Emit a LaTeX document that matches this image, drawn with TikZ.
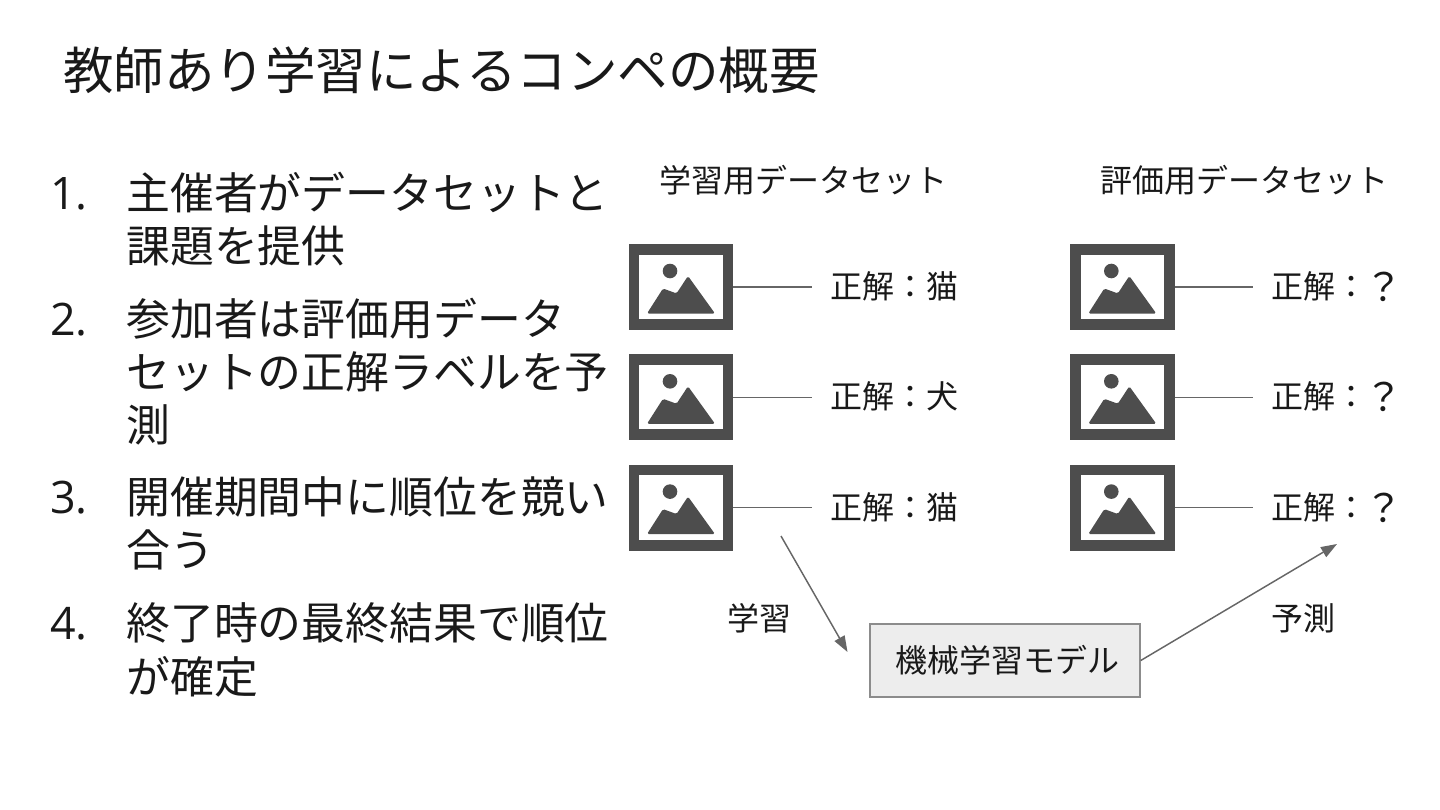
\documentclass[tikz,border=0pt]{standalone}
\usepackage{fontspec}
\setmainfont{Noto Sans CJK JP}
\newfontfamily\numfont{Open Sans}
\newcommand{\bigq}{\hspace*{-2.25pt}\raisebox{-2.2pt}{\fontsize{29}{28}\selectfont ？}}
\usetikzlibrary{arrows.meta}
\definecolor{icon}{HTML}{4D4D4D}
\definecolor{conn}{HTML}{666666}
\tikzset{
  x=0.75pt,y=-0.75pt,
  titletext/.style={anchor=base west,inner sep=0pt,text=black!90,font=\fontsize{37.9}{45}\selectfont},
  listnum/.style={anchor=base west,inner sep=0pt,text=black!90,font=\numfont\fontsize{33.6}{38}\selectfont},
  listitem/.style={anchor=north west,inner sep=0pt,align=left,text=black!90,font=\fontsize{32.9}{39.75}\selectfont},
  heading/.style={anchor=base west,inner sep=0pt,text=black!90,font=\fontsize{24}{28}\selectfont},
  plain/.style={anchor=base west,inner sep=0pt,text=black!90,font=\fontsize{24}{28}\selectfont},
  frame/.style={draw=icon,line width=8.1pt,fill=white,minimum width=70.5pt,minimum height=56.3pt,inner sep=0pt},
  link/.style={draw=conn,line width=1.1pt},
  flow/.style={draw=conn,line width=1.1pt,-{Triangle[length=12pt,width=8.5pt]}},
  modelbox/.style={draw=black!45,line width=1.1pt,fill=black!7,minimum width=202.5pt,minimum height=54.5pt,inner sep=0pt},
  modeltext/.style={anchor=base west,inner sep=0pt,text=black!90,font=\fontsize{24}{28}\selectfont},
  mountain/.pic={
    \fill[icon] (-11,-16) circle (7.3);
    \fill[icon,rounded corners=1.2pt] (-34,26.5) -- (-18,1.5) -- (-7,5.5) -- (-4.5,6.5) -- (7,-11) -- (34,26.5) -- cycle;
  }
}
\begin{document}
\begin{tikzpicture}
\useasboundingbox (0,0) rectangle (1440,810);
\node[titletext] (title) at (63,89) {教師あり学習によるコンペの概要};

\node[listnum] (n1) at (50,209) {1.};
\node[listitem] (t1) at (126,172) {\strut 主催者がデータセットと\\\strut 課題を提供};
\node[listnum] (n2) at (50,335) {2.};
\node[listitem] (t2) at (126,298) {\strut 参加者は評価用データ\\\strut セットの正解ラベルを予\\\strut 測};
\node[listnum] (n3) at (50,513) {3.};
\node[listitem] (t3) at (126,476) {\strut 開催期間中に順位を競い\\\strut 合う};
\node[listnum] (n4) at (50,639) {4.};
\node[listitem] (t4) at (126,602) {\strut 終了時の最終結果で順位\\\strut が確定};

\node[heading] (h1) at (659,192) {学習用データセット};
\node[heading] (h2) at (1100,192) {評価用データセット};

\node[frame] (a1) at (681,287) {};
\node[frame] (a2) at (681,397.3) {};
\node[frame] (a3) at (681,507.6) {};
\node[frame] (b1) at (1122.3,287) {};
\node[frame] (b2) at (1122.3,397.3) {};
\node[frame] (b3) at (1122.3,507.6) {};
\foreach \f in {a1,a2,a3,b1,b2,b3} \pic at (\f) {mountain};

\node[plain] (la1) at (830,298.5) {正解：猫};
\node[plain] (la2) at (830,408.8) {正解：犬};
\node[plain] (la3) at (830,519.1) {正解：猫};
\node[plain] (lb1) at (1271,298.5) {正解：\bigq};
\node[plain] (lb2) at (1271,408.8) {正解：\bigq};
\node[plain] (lb3) at (1271,519.1) {正解：\bigq};

\coordinate (ca1) at (812,287);
\coordinate (ca2) at (812,397.3);
\coordinate (ca3) at (812,507.6);
\coordinate (cb1) at (1253,287);
\coordinate (cb2) at (1253,397.3);
\coordinate (cb3) at (1253,507.6);
\draw[link] (a1.east) -- (ca1);
\draw[link] (a2.east) -- (ca2);
\draw[link] (a3.east) -- (ca3);
\draw[link] (b1.east) -- (cb1);
\draw[link] (b2.east) -- (cb2);
\draw[link] (b3.east) -- (cb3);

\node[modelbox] (m) at (1005,660.5) {};
\node[modeltext] (mt) at (895,672) {機械学習モデル};
\node[plain] (lt) at (727,630) {学習};
\node[plain] (lp) at (1271,630) {予測};
\coordinate (s) at (781,536);
\coordinate (e) at (847.5,652);
\coordinate (q) at (1337,544);
\draw[flow] (s) -- (e);
\draw[flow] (m.east) -- (q);
\end{tikzpicture}
\end{document}
